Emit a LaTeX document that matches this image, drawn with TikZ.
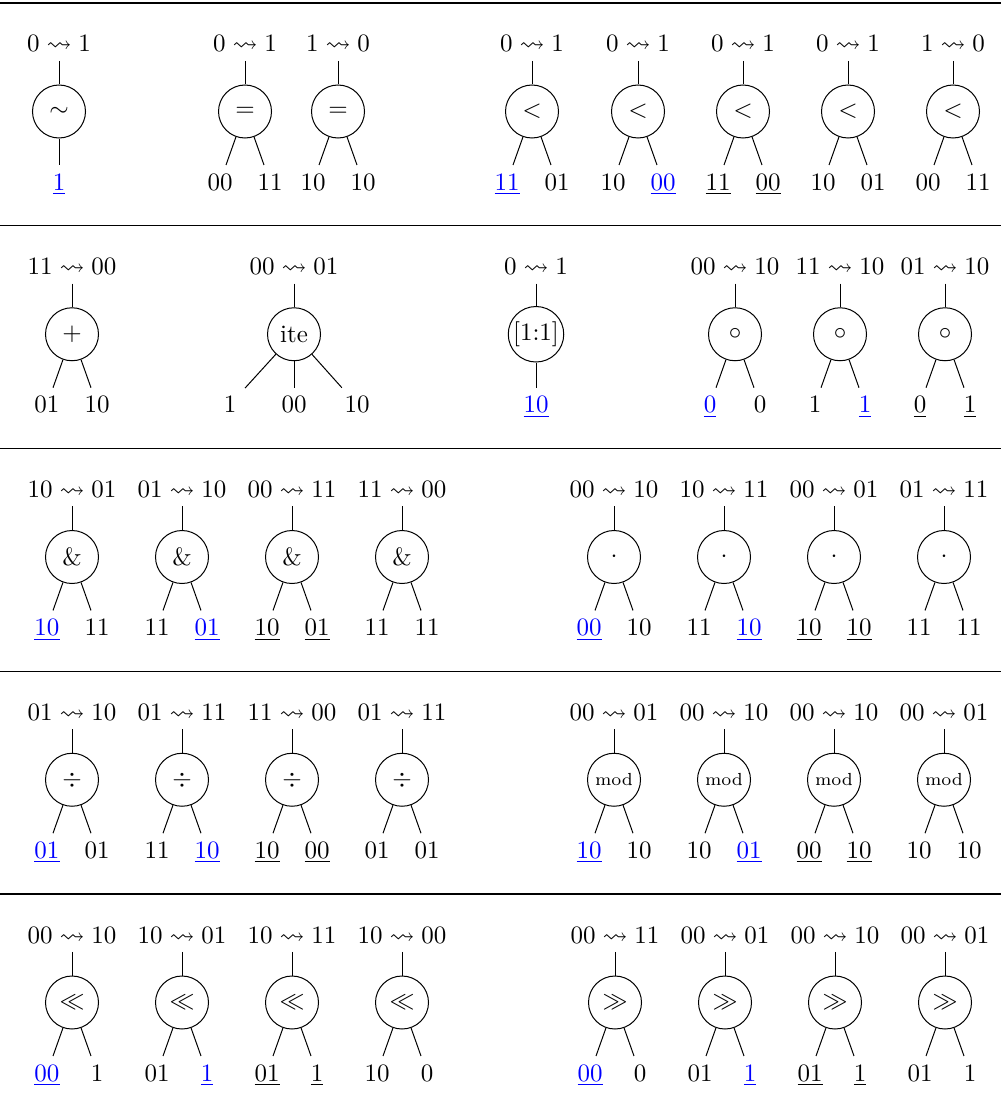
\documentclass[tikz,border=0pt]{standalone}
\usepackage{amssymb}
\usepackage{xcolor}
\tikzset{
  opnode/.style={draw, circle, minimum size=21.2pt, inner sep=0.5pt},
  lab/.style={anchor=base, inner sep=3.33pt, text height=6.5pt, text depth=0pt},
  rulethin/.style={line width=0.5pt},
  rulethick/.style={line width=0.8pt}
}
\newcommand\tr[2]{$#1 \rightsquigarrow #2$}
\newcommand\lnkU[1]{{\color{blue}$\underline{#1}$}}
\newcommand\blkU[1]{$\underline{#1}$}
% binary tree: name, x, row offset, op, top, left, right
\newcommand\BT[7]{%
  \node[opnode] (#1) at (#2,#3+108.5) {#4};
  \node[lab] (#1t) at (#2,#3+49) {#5};
  \node[lab] (#1l) at (#2-25,#3+187) {#6};
  \node[lab] (#1r) at (#2+25,#3+187) {#7};
  \draw (#1t) -- (#1);
  \draw (#1) -- (#1l);
  \draw (#1) -- (#1r);
}
% unary tree: name, x, row offset, op, top, child
\newcommand\UT[6]{%
  \node[opnode] (#1) at (#2,#3+108.5) {#4};
  \node[lab] (#1t) at (#2,#3+49) {#5};
  \node[lab] (#1c) at (#2,#3+187) {#6};
  \draw (#1t) -- (#1);
  \draw (#1) -- (#1c);
}
% ternary tree: name, x, row offset, op, top, c1, c2, c3
\newcommand\TT[8]{%
  \node[opnode] (#1) at (#2,#3+108.5) {#4};
  \node[lab] (#1t) at (#2,#3+49) {#5};
  \node[lab] (#1a) at (#2-64,#3+187) {#6};
  \node[lab] (#1b) at (#2,#3+187) {#7};
  \node[lab] (#1c) at (#2+63,#3+187) {#8};
  \draw (#1t) -- (#1);
  \draw (#1) -- (#1a);
  \draw (#1) -- (#1b);
  \draw (#1) -- (#1c);
}
\begin{document}
\begin{tikzpicture}[x=0.4pt, y=-0.4pt]
\useasboundingbox (0,0) rectangle (1001,1112);
% rules
\draw[rulethick] (0,3) -- (1001,3);
\draw[rulethin] (0,225.75) -- (1001,225.75);
\draw[rulethin] (0,448.5) -- (1001,448.5);
\draw[rulethin] (0,671.25) -- (1001,671.25);
\draw[rulethin] (0,894) -- (1001,894);
% row 1
\UT{a1}{59}{3}{$\sim$}{\tr{0}{1}}{\lnkU{1}}
\BT{a2}{245}{3}{$=$}{\tr{0}{1}}{$00$}{$11$}
\BT{a3}{338}{3}{$=$}{\tr{1}{0}}{$10$}{$10$}
\BT{a4}{532}{3}{$<$}{\tr{0}{1}}{\lnkU{11}}{$01$}
\BT{a5}{638}{3}{$<$}{\tr{0}{1}}{$10$}{\lnkU{00}}
\BT{a6}{743}{3}{$<$}{\tr{0}{1}}{\blkU{11}}{\blkU{00}}
\BT{a7}{848}{3}{$<$}{\tr{0}{1}}{$10$}{$01$}
\BT{a8}{953}{3}{$<$}{\tr{1}{0}}{$00$}{$11$}
% row 2
\BT{b1}{72}{225.75}{$+$}{\tr{11}{00}}{$01$}{$10$}
\TT{b2}{294}{225.75}{ite}{\tr{00}{01}}{$1$}{$00$}{$10$}
\UT{b3}{536}{225.75}{[1:1]}{\tr{0}{1}}{\lnkU{10}}
\BT{b4}{735}{225.75}{$\circ$}{\tr{00}{10}}{\lnkU{0}}{$0$}
\BT{b5}{840}{225.75}{$\circ$}{\tr{11}{10}}{$1$}{\lnkU{1}}
\BT{b6}{945}{225.75}{$\circ$}{\tr{01}{10}}{\blkU{0}}{\blkU{1}}
% row 3
\BT{c1}{72}{448.5}{\&}{\tr{10}{01}}{\lnkU{10}}{$11$}
\BT{c2}{182}{448.5}{\&}{\tr{01}{10}}{$11$}{\lnkU{01}}
\BT{c3}{292}{448.5}{\&}{\tr{00}{11}}{\blkU{10}}{\blkU{01}}
\BT{c4}{402}{448.5}{\&}{\tr{11}{00}}{$11$}{$11$}
\BT{c5}{614}{448.5}{$\cdot$}{\tr{00}{10}}{\lnkU{00}}{$10$}
\BT{c6}{724}{448.5}{$\cdot$}{\tr{10}{11}}{$11$}{\lnkU{10}}
\BT{c7}{834}{448.5}{$\cdot$}{\tr{00}{01}}{\blkU{10}}{\blkU{10}}
\BT{c8}{944}{448.5}{$\cdot$}{\tr{01}{11}}{$11$}{$11$}
% row 4
\BT{d1}{72}{671.25}{$\div$}{\tr{01}{10}}{\lnkU{01}}{$01$}
\BT{d2}{182}{671.25}{$\div$}{\tr{01}{11}}{$11$}{\lnkU{10}}
\BT{d3}{292}{671.25}{$\div$}{\tr{11}{00}}{\blkU{10}}{\blkU{00}}
\BT{d4}{402}{671.25}{$\div$}{\tr{01}{11}}{$01$}{$01$}
\BT{d5}{614}{671.25}{\scriptsize mod}{\tr{00}{01}}{\lnkU{10}}{$10$}
\BT{d6}{724}{671.25}{\scriptsize mod}{\tr{00}{10}}{$10$}{\lnkU{01}}
\BT{d7}{834}{671.25}{\scriptsize mod}{\tr{00}{10}}{\blkU{00}}{\blkU{10}}
\BT{d8}{944}{671.25}{\scriptsize mod}{\tr{00}{01}}{$10$}{$10$}
% row 5
\BT{e1}{72}{894}{$\ll$}{\tr{00}{10}}{\lnkU{00}}{$1$}
\BT{e2}{182}{894}{$\ll$}{\tr{10}{01}}{$01$}{\lnkU{1}}
\BT{e3}{292}{894}{$\ll$}{\tr{10}{11}}{\blkU{01}}{\blkU{1}}
\BT{e4}{402}{894}{$\ll$}{\tr{10}{00}}{$10$}{$0$}
\BT{e5}{615}{894}{$\gg$}{\tr{00}{11}}{\lnkU{00}}{$0$}
\BT{e6}{725}{894}{$\gg$}{\tr{00}{01}}{$01$}{\lnkU{1}}
\BT{e7}{835}{894}{$\gg$}{\tr{00}{10}}{\blkU{01}}{\blkU{1}}
\BT{e8}{945}{894}{$\gg$}{\tr{00}{01}}{$01$}{$1$}
\end{tikzpicture}
\end{document}
